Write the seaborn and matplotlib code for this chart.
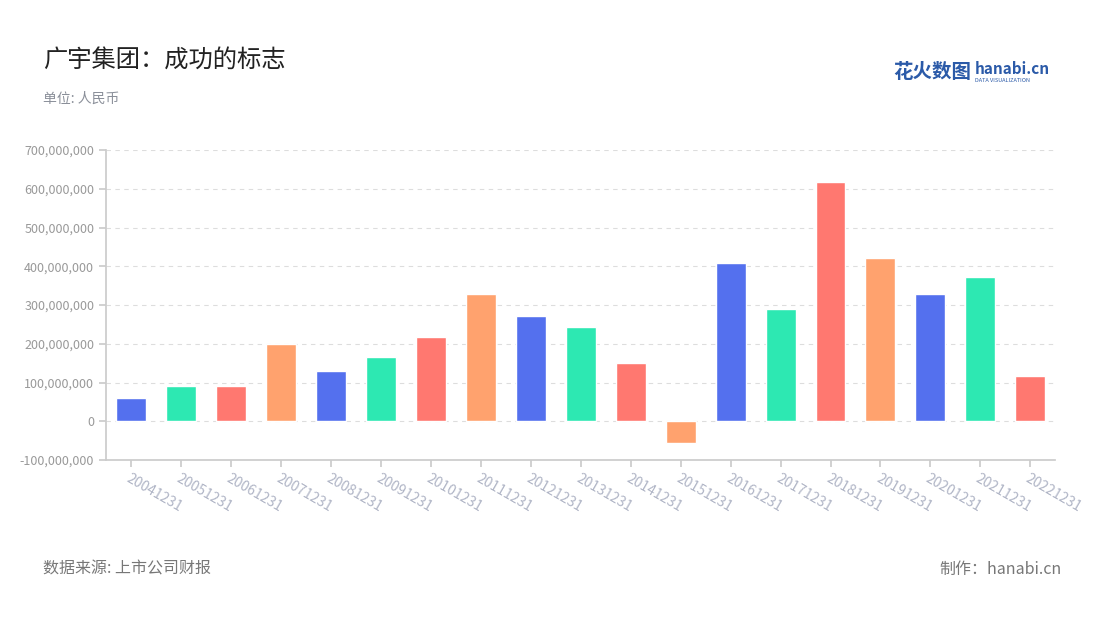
import seaborn as sns
import matplotlib.pyplot as plt
import matplotlib.ticker as mticker
import pandas as pd

years = ["20041231", "20051231", "20061231", "20071231", "20081231", "20091231",
         "20101231", "20111231", "20121231", "20131231", "20141231", "20151231",
         "20161231", "20171231", "20181231", "20191231", "20201231", "20211231",
         "20221231"]
profit = [59e6, 90e6, 92e6, 199e6, 129e6, 165e6, 217e6, 328e6, 271e6, 243e6,
          150e6, -57e6, 408e6, 289e6, 617e6, 421e6, 328e6, 372e6, 116e6]
palette = ["#5470ee", "#2de8b2", "#ff7870", "#ffa26e"]

df = pd.DataFrame({"year": years, "profit": profit})

sns.set_theme(style="white")
plt.rcParams['font.family'] = ['Noto Sans CJK SC', 'DejaVu Sans']

fig = plt.figure(figsize=(11, 6.2), dpi=100)
ax = fig.add_axes([0.0964, 0.258, 0.863, 0.5])

colors = [palette[i % 4] for i in range(len(years))]
sns.barplot(data=df, x="year", y="profit", hue="year", palette=colors,
            legend=False, width=0.6, ax=ax, saturation=1)

ax.set_ylim(-100e6, 700e6)
ax.set_xlim(-0.5, len(years) - 0.5)
ax.yaxis.set_major_locator(mticker.MultipleLocator(100e6))
ax.yaxis.set_major_formatter(mticker.FuncFormatter(lambda v, p: f"{v:,.0f}"))
ax.grid(axis="y", color="#dddddd", linestyle=(0, (4, 4)), linewidth=0.8)
ax.set_axisbelow(True)
ax.set_xlabel("")
ax.set_ylabel("")
for s in ["top", "right"]:
    ax.spines[s].set_visible(False)
ax.spines["left"].set_color("#cccccc")
ax.spines["bottom"].set_color("#cccccc")
ax.spines["bottom"].set_position(("data", -100e6))
ax.tick_params(axis="y", colors="#999999", labelsize=9, length=5, color="#cccccc", left=True)
ax.tick_params(axis="x", colors="#b0b5c6", labelsize=10, length=5, color="#cccccc", bottom=True)
for lab in ax.get_xticklabels():
    lab.set_rotation(-30)
    lab.set_ha("left")
    lab.set_rotation_mode("anchor")

fig.text(0.039, 0.893, "广宇集团：成功的标志", fontsize=17.5, color="#222222")
fig.text(0.039, 0.835, "单位: 人民币", fontsize=10, color="#8a8f99")
fig.text(0.039, 0.075, "数据来源: 上市公司财报", fontsize=11.5, color="#777777")
fig.text(0.965, 0.075, "制作：hanabi.cn", fontsize=11.5, color="#777777", ha="right")
fig.text(0.812, 0.875, "花火数图", fontsize=14, color="#2b5aa8", fontweight="bold")
fig.text(0.886, 0.88, "hanabi.cn", fontsize=11, color="#2b5aa8", fontweight="bold")
fig.text(0.886, 0.868, "DATA VISUALIZATION", fontsize=4, color="#2b5aa8")

fig.savefig("out.png", dpi=100)
